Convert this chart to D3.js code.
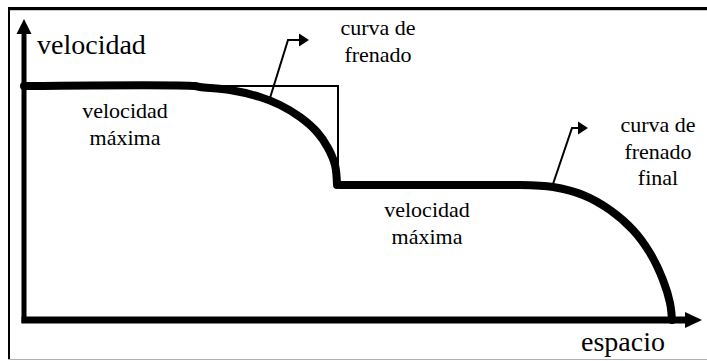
<!DOCTYPE html>
<html>
<head>
<meta charset="utf-8">
<script src="https://cdn.jsdelivr.net/npm/d3@7"></script>
<style>
  html, body { margin: 0; padding: 0; background: #fff; }
  svg { display: block; }
</style>
</head>
<body>
<svg id="chart" width="707" height="361"></svg>
<script>
// espacio (x) / velocidad (y), in arbitrary units
const firstProfile = [
  [0, 234], [171, 234], [176, 233], [206, 230], [236, 223], [256, 215],
  [276, 203], [293, 188], [304, 172], [311, 155], [313, 135]
]
const secondProfile = [
  [316, 135], [491, 135], [493, 135], [529, 133], [559, 125], [586, 110],
  [609, 90], [626, 67], [639, 40], [646, 17], [648, 0]
]
// thin constant-speed reference of the first braking curve
const brakeReference = [[171, 234], [314, 234], [314, 137]]

// annotation leaders: [start on curve, elbow, arrow tip]
const leaders = [
  [[246, 222], [264, 280], [285, 280]],
  [[529, 136], [548, 192], [564, 192]]
]

const labels = [
  { lines: ['velocidad', 'máxima'], at: [101, 202], size: 22 },
  { lines: ['curva de', 'frenado'], at: [354, 285], size: 22 },
  { lines: ['velocidad', 'máxima'], at: [403, 103], size: 22 },
  { lines: ['curva de', 'frenado', 'final'], at: [634, 188], size: 22 }
]
const yTitle = 'velocidad'
const xTitle = 'espacio'

const width = 707
const height = 361
const font = '"Liberation Serif"'

const svg = d3.select('#chart')

const x = d3.scaleLinear().domain([0, 660]).range([24, 684])
const y = d3.scaleLinear().domain([0, 300]).range([320, 20])

// frame
svg.append('line')
  .attr('x1', 8).attr('x2', width).attr('y1', 8.5).attr('y2', 8.5)
  .attr('stroke', '#000').attr('stroke-width', 3)
svg.append('line')
  .attr('x1', 8).attr('x2', width).attr('y1', 10.5).attr('y2', 10.5)
  .attr('stroke', '#c8c8c8').attr('stroke-width', 1)
svg.append('line')
  .attr('x1', 9).attr('x2', 9).attr('y1', 7).attr('y2', 360)
  .attr('stroke', '#000').attr('stroke-width', 2)
svg.append('line')
  .attr('x1', 8).attr('x2', width).attr('y1', 359.5).attr('y2', 359.5)
  .attr('stroke', '#b0b0b0').attr('stroke-width', 1)

// axes
const axes = svg.append('g').attr('id', 'axes')
axes.append('line')
  .attr('x1', x(0)).attr('x2', x(0))
  .attr('y1', y(0) + 3).attr('y2', y(286))
  .attr('stroke', '#000').attr('stroke-width', 5)
axes.append('path')
  .attr('d', `M${x(0)},${y(301)} L${x(0) - 7.5},${y(286)} L${x(0) + 7.5},${y(286)} Z`)
  .attr('fill', '#000')
axes.append('line')
  .attr('x1', x(0) - 2.5).attr('x2', x(661))
  .attr('y1', y(0)).attr('y2', y(0))
  .attr('stroke', '#000').attr('stroke-width', 7)
axes.append('path')
  .attr('d', `M${x(678)},${y(0)} L${x(661)},${y(0) - 8} L${x(661)},${y(0) + 8} Z`)
  .attr('fill', '#000')

// reference box
svg.append('path')
  .datum(brakeReference)
  .attr('d', d3.line().x((d) => x(d[0])).y((d) => y(d[1])))
  .attr('fill', 'none')
  .attr('stroke', '#000')
  .attr('stroke-width', 2)

// velocity profile
const profile = d3.line()
  .curve(d3.curveCatmullRom.alpha(0.5))
  .x((d) => x(d[0]))
  .y((d) => y(d[1]))

svg.append('g')
  .attr('id', 'profile')
  .selectAll('path')
  .data([firstProfile, secondProfile])
  .join('path')
  .attr('d', profile)
  .attr('fill', 'none')
  .attr('stroke', '#000')
  .attr('stroke-width', 8)
  .attr('stroke-linecap', 'round')
  .attr('stroke-linejoin', 'round')

// leaders with arrow heads
const lead = svg.append('g').attr('id', 'leaders')
leaders.forEach((l) => {
  const tip = l[2]
  lead.append('path')
    .attr('d', d3.line().x((d) => x(d[0])).y((d) => y(d[1]))(l.slice(0, 2).concat([[tip[0] - 8, tip[1]]])))
    .attr('fill', 'none')
    .attr('stroke', '#000')
    .attr('stroke-width', 2)
  lead.append('path')
    .attr('d', `M${x(tip[0])},${y(tip[1])} L${x(tip[0] - 10)},${y(tip[1]) - 6.5} L${x(tip[0] - 10)},${y(tip[1]) + 6.5} Z`)
    .attr('fill', '#000')
})

// texts
labels.forEach((lab) => {
  lab.lines.forEach((line, i) => {
    svg.append('text')
      .attr('x', x(lab.at[0]))
      .attr('y', y(lab.at[1]) + i * 26.5)
      .attr('text-anchor', 'middle')
      .style('font-family', font)
      .attr('font-size', lab.size)
      .text(line)
  })
})

svg.append('text')
  .attr('x', 37).attr('y', 54)
  .style('font-family', font)
  .attr('font-size', 28)
  .text(yTitle)

svg.append('text')
  .attr('x', 665).attr('y', 351)
  .attr('text-anchor', 'end')
  .style('font-family', font)
  .attr('font-size', 28)
  .text(xTitle)
</script>
</body>
</html>
